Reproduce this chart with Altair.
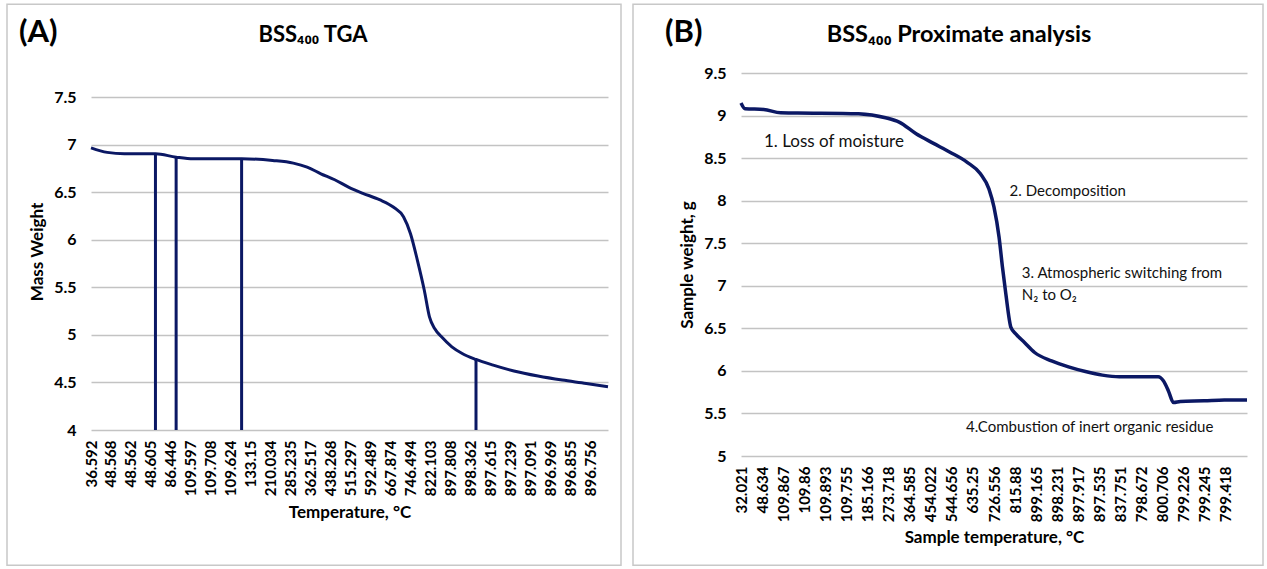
import json
import altair as alt
import pandas as pd

FONT = "Lato"
LINE = "#0b1864"
GRID = "#c3c3c3"
BORDER = "#c8c8c8"

# ---------------- Panel A: BSS400 TGA ----------------
a_labels = ["36.592", "48.568", "48.562", "48.605", "86.446", "109.597", "109.708",
            "109.624", "133.15", "210.034", "285.235", "362.517", "438.268", "515.297",
            "592.489", "667.874", "746.494", "822.103", "897.808", "898.362", "897.615",
            "897.239", "897.091", "896.969", "896.855", "896.756"]
a_pos = [0, 0.812, 1.675, 3.229, 4.265, 5.128, 7.545, 9.100, 10.136, 10.826, 11.517,
         12.208, 12.899, 13.589, 14.453, 15.143, 15.661, 16.006, 16.352, 16.697, 16.956,
         17.215, 17.560, 18.078, 18.596, 19.287, 20.150, 21.186, 22.395, 23.604, 24.813, 25.9]
a_mass = [6.968, 6.92, 6.905, 6.905, 6.87, 6.853, 6.853, 6.835, 6.807, 6.765, 6.695,
          6.632, 6.555, 6.492, 6.422, 6.345, 6.24, 6.065, 5.785, 5.47, 5.19,
          5.067, 4.98, 4.875, 4.805, 4.742, 4.682, 4.62, 4.567, 4.525, 4.49, 4.455]
a_spike_pos = [3.229, 4.265, 7.545, 19.287]
a_spike_mass = [6.905, 6.87, 6.853, 4.742]
a_ticks = [4, 4.5, 5, 5.5, 6, 6.5, 7, 7.5]

# ---------------- Panel B: BSS400 Proximate analysis ----------------
b_labels = ["32.021", "48.634", "109.867", "109.86", "109.893", "109.755", "185.166",
            "273.718", "364.585", "454.022", "544.656", "635.25", "726.556", "815.88",
            "899.165", "898.231", "897.917", "897.535", "837.751", "798.672", "800.706",
            "799.226", "799.245", "799.418"]
b_pos = [0, 0.193, 1.076, 1.880, 2.683, 5.574, 6.859, 7.502, 8.305, 9.108, 9.912,
         10.715, 11.357, 11.759, 12.0, 12.241, 12.402, 12.562, 12.803, 13.044, 13.446,
         13.928, 14.731, 15.534, 16.337, 17.140, 17.944, 19.791, 20.032, 20.273, 20.514,
         20.835, 21.960, 22.923, 24.0]
b_weight = [9.147, 9.08, 9.072, 9.033, 9.03, 9.021, 8.974, 8.923, 8.786, 8.676, 8.57,
            8.453, 8.316, 8.139, 7.923, 7.57, 7.217, 6.903, 6.511, 6.432, 6.334,
            6.216, 6.118, 6.048, 5.993, 5.95, 5.93, 5.93, 5.883, 5.765, 5.628,
            5.64, 5.648, 5.659, 5.659]
b_ticks = [5, 5.5, 6, 6.5, 7, 7.5, 8, 8.5, 9, 9.5]
b_notes = ["1. Loss of moisture", "2. Decomposition", "3. Atmospheric switching from",
           "N\u2082 to O\u2082", "4.Combustion of inert organic residue"]
b_note_pos = [1.09, 12.74, 13.32, 13.32, 10.67]
b_note_weight = [8.69, 8.11, 7.15, 6.89, 5.345]

one = pd.DataFrame({"k": [0]})


def x_axis(labels, title, title_pad):
    expr = "[" + ",".join(json.dumps(l) for l in labels) + "][datum.value]"
    return alt.Axis(values=list(range(len(labels))), labelExpr=expr, labelAngle=-90,
                    labelAlign="right", labelBaseline="middle", labelFont=FONT,
                    labelFontSize=15, labelFontWeight="bold", labelColor="#000000",
                    labelPadding=10, labelOverlap=False, labelFlush=False, labelBound=False,
                    grid=False, domain=False, ticks=False, title=title, titleFont=FONT,
                    titleFontSize=17, titleFontWeight="bold", titleColor="#000000",
                    titlePadding=title_pad)


def y_axis(ticks, title, label_pad, title_pad):
    return alt.Axis(values=ticks, format=".1~f", grid=True, gridColor=GRID, gridWidth=1.4,
                    domain=False, ticks=False, labelFont=FONT, labelFontSize=16,
                    labelFontWeight="bold", labelColor="#000000", labelPadding=label_pad,
                    title=title, titleFont=FONT, titleFontSize=17, titleFontWeight="bold",
                    titleColor="#000000", titlePadding=title_pad)


def frame(x1, x2, y1, y2):
    return alt.Chart(one).mark_rect(filled=False, stroke=BORDER, strokeWidth=1.5).encode(
        x=alt.value(x1), x2=alt.value(x2), y=alt.value(y1), y2=alt.value(y2))


def label(text, size, x, y, align):
    return alt.Chart(one).mark_text(text=text, font=FONT, fontSize=size, fontWeight="bold",
                                    align=align, baseline="alphabetic",
                                    color="#000000").encode(x=alt.value(x), y=alt.value(y))


# Panel A (plot origin shares the row with panel B, so the scale runs a little above 7.5)
a_df = pd.DataFrame({"pos": a_pos, "mass": a_mass})
a_spikes = pd.DataFrame({"pos": a_spike_pos, "mass": a_spike_mass})
ax = alt.X("pos:Q", scale=alt.Scale(domain=[0, 25.9], nice=False, zero=False),
           axis=x_axis(a_labels, "Temperature, \u00b0C", 9))
ay = alt.Y("mass:Q", scale=alt.Scale(domain=[4, 7.755], nice=False, zero=False),
           axis=y_axis(a_ticks, "Mass Weight", 15, 7))
a_line = alt.Chart(a_df).mark_line(color=LINE, strokeWidth=3, interpolate="monotone").encode(
    x=ax, y=ay)
a_rules = alt.Chart(a_spikes).mark_rule(color=LINE, strokeWidth=3).encode(
    x=ax, y=ay, y2=alt.datum(4))
panel_a = alt.layer(
    frame(-84, 530, -68.7, 492.3),
    a_line, a_rules,
    label("(A)", 31, -72, -30.7, "left"),
    label("BSS\u2084\u2080\u2080 TGA", 22, 222, -30.7, "center"),
).properties(width=517, height=357)

# Panel B
b_df = pd.DataFrame({"pos": b_pos, "weight": b_weight})
notes_df = pd.DataFrame({"pos": b_note_pos, "weight": b_note_weight, "note": b_notes})
bx = alt.X("pos:Q", scale=alt.Scale(domain=[0, 24], nice=False, zero=False),
           axis=x_axis(b_labels, "Sample temperature, \u00b0C", 8))
by = alt.Y("weight:Q", scale=alt.Scale(domain=[5, 9.5], nice=False, zero=False),
           axis=y_axis(b_ticks, "Sample weight, g", 15, 7))
b_line = alt.Chart(b_df).mark_line(color=LINE, strokeWidth=3.5, interpolate="monotone").encode(
    x=bx, y=by)
b_first = alt.Chart(notes_df.iloc[:1]).mark_text(
    font=FONT, fontSize=17, align="left", baseline="middle", color="#111111").encode(
    x=bx, y=by, text="note:N")
b_rest = alt.Chart(notes_df.iloc[1:]).mark_text(
    font=FONT, fontSize=15, align="left", baseline="middle", color="#111111").encode(
    x=bx, y=by, text="note:N")
panel_b = alt.layer(
    frame(-108, 522, -68.7, 492.3),
    b_line, b_first, b_rest,
    label("(B)", 31, -76, -30.7, "left"),
    label("BSS\u2084\u2080\u2080 Proximate analysis", 23.5, 218, -30.7, "center"),
).properties(width=506, height=383)

chart = alt.hconcat(panel_a, panel_b, spacing=10).properties(
    padding={"left": 6, "top": 3, "right": 0, "bottom": 0},
    background="white",
).configure_view(strokeWidth=0)

chart.save("out.html", embed_options={"renderer": "svg", "actions": False})
